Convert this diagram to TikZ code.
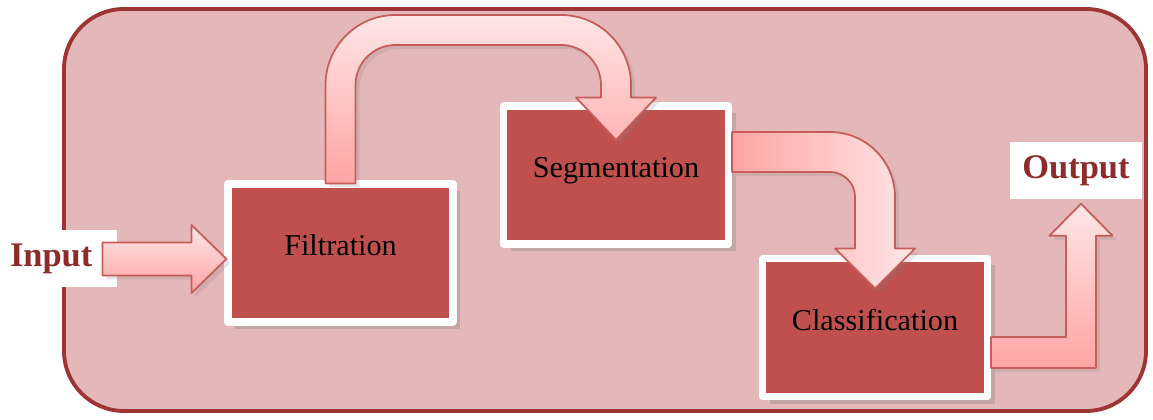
\documentclass[tikz,border=0pt]{standalone}
\usepackage{fontspec}
\setmainfont{Liberation Serif}
\usetikzlibrary{calc,positioning,shadows}

\definecolor{framefill}{HTML}{E4B7B8}
\definecolor{frameborder}{HTML}{9E3535}
\definecolor{boxred}{HTML}{C0504D}
\definecolor{labelred}{HTML}{8E2C2C}
\definecolor{arrowdark}{HTML}{FFA4A4}
\definecolor{arrowlight}{HTML}{FFE6E6}
\definecolor{arrowborder}{HTML}{C65D5A}

\begin{document}
\begin{tikzpicture}[
    % GLOBAL CFG
    font=\fontsize{8.6}{10}\selectfont,
    % Styles
    outerbox/.style={% For the big rounded box
        rectangle,
        rounded corners=6mm,
        draw=frameborder,
        line width=1.1pt,
        fill=framefill,
        minimum width=10.82cm,
        minimum height=4.02cm,
        },
    stage/.style={% For the processing blocks
        rectangle,
        draw=white,
        line width=2pt,
        line join=round,
        fill=boxred,
        minimum width=2.25cm,
        minimum height=1.38cm,
        text depth=1.5mm,
        drop shadow={shadow xshift=0.7mm, shadow yshift=-0.7mm, opacity=0.3},
        },
    iolabel/.style={% For input and output texts
        rectangle,
        fill=white,
        text=labelred,
        font=\fontsize{9.8}{12}\selectfont\bfseries,
        minimum height=0.57cm,
        },
    fatarrow/.style={% For the big bent arrows
        draw=arrowborder,
        line width=0.5pt,
        line join=round,
        drop shadow={shadow xshift=0.4mm, shadow yshift=-0.4mm, opacity=0.2},
        },
    ]

    \useasboundingbox (0,0) rectangle (11.53,4.19);

    % Draw the big box
    \node [outerbox] (frame) at (6.05,2.09) {};

    % Input and output
    \node [iolabel, minimum width=1.15cm, text width=0.95cm, align=left] (in) at (0.575,1.60) {Input};
    \node [iolabel, minimum width=1.32cm] (out) at (10.76,2.485) {Output};

    % Draw the blocks named filt, seg and class
    \node [stage] (filt) at (3.405,1.66) {Filtration};
    \node [stage] (seg) at (6.16,2.44) {Segmentation};
    \node [stage] (class) at (8.75,0.915) {Classification};

    % Drawing arrows
    % Input -> Filtration
    \path [fatarrow, top color=arrowlight, bottom color=arrowdark]
        let \p1=(in.east), \p2=(filt.west) in
        (\x1-1.5mm,\y1+1.65mm) -- (\x2-3.3mm,\y1+1.65mm) -- (\x2-3.3mm,\y1+3.4mm)
        -- (\x2+0.2mm,\y1) -- (\x2-3.3mm,\y1-3.4mm) -- (\x2-3.3mm,\y1-1.65mm)
        -- (\x1-1.5mm,\y1-1.65mm) -- cycle;

    % Filtration -> Segmentation
    \path [fatarrow, top color=arrowlight, bottom color=arrowdark]
        let \p1=(filt.north), \p2=(seg.north) in
        (\x1-1.5mm,\y1-0.3mm) -- (\x1-1.5mm,33.4mm)
        arc[start angle=180, end angle=90, radius=7mm]
        -- (\x2-5.5mm,40.4mm)
        arc[start angle=90, end angle=0, radius=7mm]
        -- (\x2+1.5mm,\y2+0.5mm) -- (\x2+4mm,\y2+0.5mm) -- (\x2,\y2-3.75mm)
        -- (\x2-4mm,\y2+0.5mm) -- (\x2-1.5mm,\y2+0.5mm) -- (\x2-1.5mm,33.4mm)
        arc[start angle=0, end angle=90, radius=4mm]
        -- (\x1+5.5mm,37.4mm)
        arc[start angle=90, end angle=180, radius=4mm]
        -- (\x1+1.5mm,\y1-0.3mm) -- cycle;

    % Segmentation -> Classification
    \path [fatarrow, left color=arrowdark, right color=arrowlight]
        let \p1=(seg.east), \p2=(class.north) in
        (\x1,\y1+4.3mm) -- (\x2-4.5mm,\y1+4.3mm)
        arc[start angle=90, end angle=0, radius=6.5mm]
        -- (\x2+2mm,\y2+0.65mm) -- (\x2+4mm,\y2+0.65mm) -- (\x2,\y2-3.35mm)
        -- (\x2-4mm,\y2+0.65mm) -- (\x2-2mm,\y2+0.65mm) -- (\x2-2mm,\y1-2.2mm)
        arc[start angle=0, end angle=90, radius=2.5mm]
        -- (\x1,\y1+0.3mm) -- cycle;

    % Classification -> Output
    \path [fatarrow, top color=arrowlight, bottom color=arrowdark]
        let \p1=(class.east), \p2=(out.south) in
        (\x1,\y1-0.95mm) -- (\x2-1mm,\y1-0.95mm) -- (\x2-1mm,\y2-3.6mm)
        -- (\x2-2.65mm,\y2-3.6mm) -- (\x2+0.5mm,\y2-0.4mm) -- (\x2+3.65mm,\y2-3.6mm)
        -- (\x2+2mm,\y2-3.6mm) -- (\x2+2mm,\y1-4.05mm) -- (\x1,\y1-4.05mm) -- cycle;

\end{tikzpicture}
\end{document}
